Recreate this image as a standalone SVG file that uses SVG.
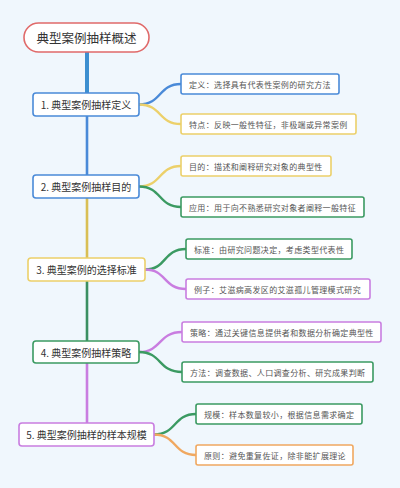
<svg xmlns="http://www.w3.org/2000/svg" width="400" height="488" viewBox="0 0 400 488">
<style>
.bg{fill:#f0f7fd}
.n{fill:#ffffff;stroke-width:1.6}
.nt{font-family:"Noto Sans CJK SC","Noto Sans",sans-serif;font-size:10px;fill:#333;text-anchor:middle;dominant-baseline:central}
.lt{font-family:"Noto Sans CJK SC","Noto Sans",sans-serif;font-size:8px;fill:#555;letter-spacing:0.35px;dominant-baseline:central}
.c{fill:none;stroke-width:2.4;stroke-linecap:round}
.blue{stroke:#4a8ad8}.yellow{stroke:#ecd06a}.green{stroke:#3b9a62}.purple{stroke:#c97de0}.orange{stroke:#f0a860}.red{stroke:#e06a6a}
</style>
<rect class="bg" x="0" y="0" width="400" height="488"/>
<g id="connectors">
<line x1="87" y1="52" x2="87" y2="93" stroke="#3d8fd0" stroke-width="4"/>
<line x1="87" y1="116" x2="87" y2="175" stroke="#4a8ad8" stroke-width="2.6"/>
<line x1="87" y1="198" x2="87" y2="258" stroke="#d9bf55" stroke-width="2.6"/>
<line x1="87" y1="281" x2="87" y2="341" stroke="#3b8f62" stroke-width="2.6"/>
<line x1="87" y1="363" x2="87" y2="423" stroke="#c97de0" stroke-width="2.6"/>
<path class="c blue" d="M139,104.5 C162,104.5 158,84 181,84"/>
<path class="c yellow" d="M139,104.5 C162,104.5 158,124 181,124"/>
<path class="c yellow" d="M139,186.5 C162,186.5 158,166 181,166"/>
<path class="c green" d="M139,186.5 C162,186.5 158,207 181,207"/>
<path class="c green" d="M145,269.5 C167,269.5 163,249 186,249"/>
<path class="c purple" d="M145,269.5 C167,269.5 163,289 186,289"/>
<path class="c purple" d="M139,352 C162,352 158,332 182,332"/>
<path class="c green" d="M139,352 C162,352 158,372 182,372"/>
<path class="c green" d="M154,434.5 C177,434.5 173,414 196,414"/>
<path class="c orange" d="M154,434.5 C177,434.5 173,455 196,455"/>
</g>
<g id="root">
<rect class="n red" x="24" y="23" width="125" height="29" rx="14.5"/>
<text class="nt" x="86.5" y="37.5" style="font-size:12.5px">典型案例抽样概述</text>
</g>
<g id="n1">
<rect class="n blue" x="33" y="93" width="106" height="23" rx="3"/>
<text class="nt" x="86" y="104.5">1. 典型案例抽样定义</text>
</g>
<g id="n2">
<rect class="n blue" x="33" y="175" width="106" height="23" rx="3"/>
<text class="nt" x="86" y="186.5">2. 典型案例抽样目的</text>
</g>
<g id="n3">
<rect class="n yellow" x="28" y="258" width="117" height="23" rx="3"/>
<text class="nt" x="86.5" y="269.5">3. 典型案例的选择标准</text>
</g>
<g id="n4">
<rect class="n green" x="33" y="341" width="106" height="22" rx="3"/>
<text class="nt" x="86" y="352">4. 典型案例抽样策略</text>
</g>
<g id="n5">
<rect class="n purple" x="19" y="423" width="135" height="23" rx="3"/>
<text class="nt" x="86.5" y="434.5">5. 典型案例抽样的样本规模</text>
</g>
<g id="l1">
<rect class="n blue" x="181" y="74" width="158" height="20" rx="2" stroke-width="1.3"/>
<text class="lt" x="189" y="84">定义：选择具有代表性案例的研究方法</text>
</g>
<g id="l2">
<rect class="n yellow" x="181" y="114" width="175" height="20" rx="2" stroke-width="1.3"/>
<text class="lt" x="189" y="124">特点：反映一般性特征，非极端或异常案例</text>
</g>
<g id="l3">
<rect class="n yellow" x="181" y="156" width="150" height="20" rx="2" stroke-width="1.3"/>
<text class="lt" x="189" y="166">目的：描述和阐释研究对象的典型性</text>
</g>
<g id="l4">
<rect class="n green" x="181" y="197" width="183" height="20" rx="2" stroke-width="1.3"/>
<text class="lt" x="189" y="207">应用：用于向不熟悉研究对象者阐释一般特征</text>
</g>
<g id="l5">
<rect class="n green" x="186" y="239" width="166" height="20" rx="2" stroke-width="1.3"/>
<text class="lt" x="194" y="249">标准：由研究问题决定，考虑类型代表性</text>
</g>
<g id="l6">
<rect class="n purple" x="186" y="279" width="184" height="20" rx="2" stroke-width="1.3"/>
<text class="lt" x="194" y="289">例子：艾滋病高发区的艾滋孤儿管理模式研究</text>
</g>
<g id="l7">
<rect class="n purple" x="182" y="322" width="199" height="20" rx="2" stroke-width="1.3"/>
<text class="lt" x="190" y="332">策略：通过关键信息提供者和数据分析确定典型性</text>
</g>
<g id="l8">
<rect class="n green" x="182" y="362" width="191" height="20" rx="2" stroke-width="1.3"/>
<text class="lt" x="190" y="372">方法：调查数据、人口调查分析、研究成果判断</text>
</g>
<g id="l9">
<rect class="n green" x="196" y="404" width="166" height="20" rx="2" stroke-width="1.3"/>
<text class="lt" x="204" y="414">规模：样本数量较小，根据信息需求确定</text>
</g>
<g id="l10">
<rect class="n orange" x="196" y="445" width="157" height="20" rx="2" stroke-width="1.3"/>
<text class="lt" x="204" y="455">原则：避免重复佐证，除非能扩展理论</text>
</g>
</svg>
